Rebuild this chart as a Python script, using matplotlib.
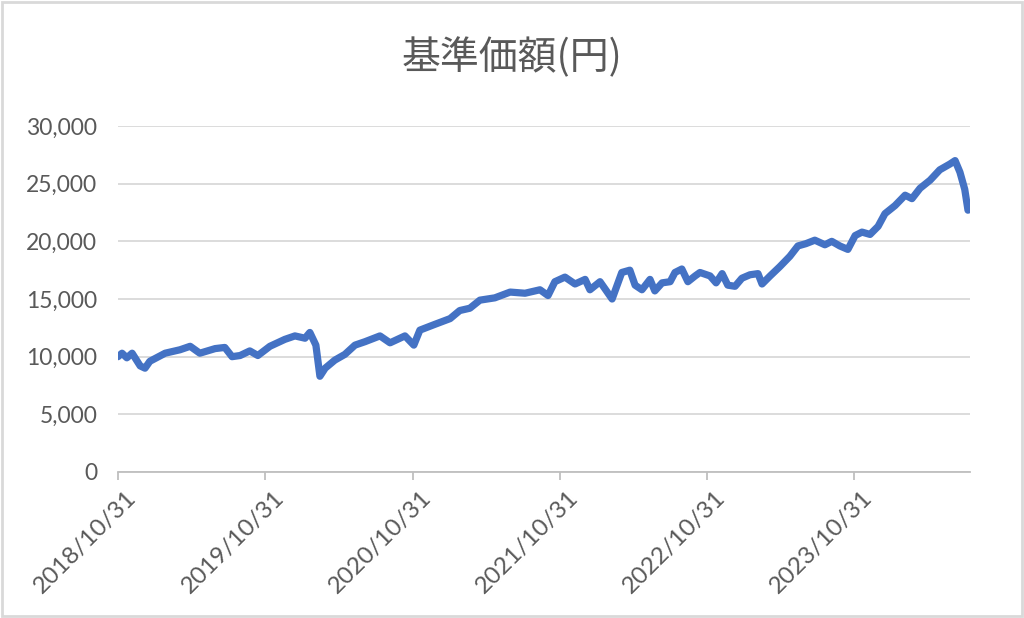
import matplotlib
matplotlib.use("Agg")
import matplotlib.pyplot as plt
import matplotlib.transforms as mtransforms
from matplotlib.patches import Rectangle
from matplotlib.ticker import FuncFormatter
import pandas as pd

# 基準価額
dates = [
    "2018-10-31", "2018-11-10", "2018-11-22", "2018-12-05", "2018-12-25",
    "2019-01-06", "2019-01-18", "2019-02-25", "2019-04-03", "2019-04-28",
    "2019-05-22", "2019-06-29", "2019-07-23", "2019-08-10", "2019-08-30",
    "2019-09-23", "2019-10-13", "2019-11-12", "2019-12-19", "2020-01-13",
    "2020-02-07", "2020-02-19", "2020-03-05", "2020-03-15", "2020-03-28",
    "2020-04-21", "2020-05-16", "2020-06-10", "2020-07-05", "2020-08-11",
    "2020-09-05", "2020-10-12", "2020-11-03", "2020-11-18", "2020-12-25",
    "2021-02-01", "2021-02-25", "2021-03-22", "2021-04-16", "2021-05-23",
    "2021-06-30", "2021-08-06", "2021-09-12", "2021-10-02", "2021-10-19",
    "2021-11-13", "2021-12-08", "2022-01-02", "2022-01-14", "2022-02-08",
    "2022-03-10", "2022-04-03", "2022-04-23", "2022-05-06", "2022-05-23",
    "2022-06-12", "2022-06-24", "2022-07-12", "2022-08-01", "2022-08-13",
    "2022-08-30", "2022-09-14", "2022-10-02", "2022-10-14", "2022-11-08",
    "2022-11-23", "2022-12-08", "2022-12-22", "2023-01-09", "2023-01-26",
    "2023-02-15", "2023-03-07", "2023-03-17", "2023-04-06", "2023-04-30",
    "2023-05-25", "2023-06-14", "2023-07-04", "2023-07-26", "2023-08-20",
    "2023-09-06", "2023-09-26", "2023-10-16", "2023-11-03", "2023-11-20",
    "2023-12-10", "2023-12-30", "2024-01-16", "2024-02-10", "2024-03-06",
    "2024-03-23", "2024-04-12", "2024-05-07", "2024-05-31", "2024-06-25",
    "2024-07-08", "2024-07-20", "2024-08-01", "2024-08-09",
]
nav = [
    10000, 10300, 9900, 10300, 9200,
    9000, 9600, 10300, 10600, 10900,
    10300, 10700, 10800, 10000, 10100,
    10500, 10100, 10900, 11500, 11800,
    11600, 12100, 11000, 8300, 9000,
    9700, 10200, 11000, 11300, 11800,
    11200, 11800, 11000, 12300, 12800,
    13300, 14000, 14200, 14900, 15100,
    15600, 15500, 15800, 15300, 16500,
    16900, 16300, 16700, 15800, 16500,
    15000, 17300, 17500, 16200, 15800,
    16700, 15700, 16400, 16500, 17300,
    17600, 16500, 17000, 17300, 17000,
    16400, 17200, 16200, 16100, 16800,
    17100, 17200, 16300, 17000, 17800,
    18700, 19600, 19800, 20100, 19700,
    20000, 19600, 19300, 20500, 20800,
    20600, 21300, 22400, 23100, 24000,
    23700, 24600, 25300, 26200, 26700,
    27000, 26000, 24500, 22700,
]
tick_dates = ["2018-10-31", "2019-10-31", "2020-10-31",
              "2021-10-31", "2022-10-31", "2023-10-31"]
y_ticks = [0, 5000, 10000, 15000, 20000, 25000, 30000]

plt.rcParams['font.family'] = ['Lato', 'Noto Sans CJK JP', 'DejaVu Sans']

grey_text = "#595959"
fig = plt.figure(figsize=(10.24, 6.18), dpi=100)
ax = fig.add_axes([118 / 1024, 146 / 618, 852 / 1024, 346 / 618])

x = pd.to_datetime(dates)
ax.plot(x, nav, color="#4472C4", linewidth=5.2, solid_joinstyle="round",
        solid_capstyle="round")

ax.set_ylim(0, 30000)
ax.set_yticks(y_ticks)
ax.yaxis.set_major_formatter(FuncFormatter(lambda v, p: f"{int(v):,}"))
ax.set_xlim(pd.Timestamp("2018-10-31"), pd.Timestamp("2024-08-14"))
ticks = pd.to_datetime(tick_dates)
ax.set_xticks(ticks)
ax.set_xticklabels([t.strftime("%Y/%m/%d") for t in ticks])

ax.grid(axis="y", color="#D9D9D9", linewidth=1.3)
ax.set_axisbelow(True)
for s in ["left", "right", "top"]:
    ax.spines[s].set_visible(False)
ax.spines["bottom"].set_color("#BFBFBF")
ax.spines["bottom"].set_linewidth(1.3)

ax.tick_params(axis="y", length=0, pad=15, labelsize=16.5, labelcolor=grey_text)
ax.tick_params(axis="x", length=6, width=1.3, color="#BFBFBF", pad=5,
               labelsize=17.5, labelcolor=grey_text)
offset = mtransforms.ScaledTranslation(8 / 100, 0, fig.dpi_scale_trans)
for lab in ax.get_xticklabels():
    lab.set_rotation(45)
    lab.set_ha("right")
    lab.set_va("top")
    lab.set_rotation_mode("anchor")
    lab.set_transform(lab.get_transform() + offset)

fig.text(0.5, 1 - 58 / 618, "基準価額(円)", ha="center", va="center",
         fontsize=28, color=grey_text, family=['Noto Sans CJK JP', 'DejaVu Sans'])

fig.patches.append(Rectangle((0.002, 0.003), 0.996, 0.994, transform=fig.transFigure,
                             fill=False, edgecolor="#D9D9D9", linewidth=2))

fig.savefig("out.png", dpi=100)
